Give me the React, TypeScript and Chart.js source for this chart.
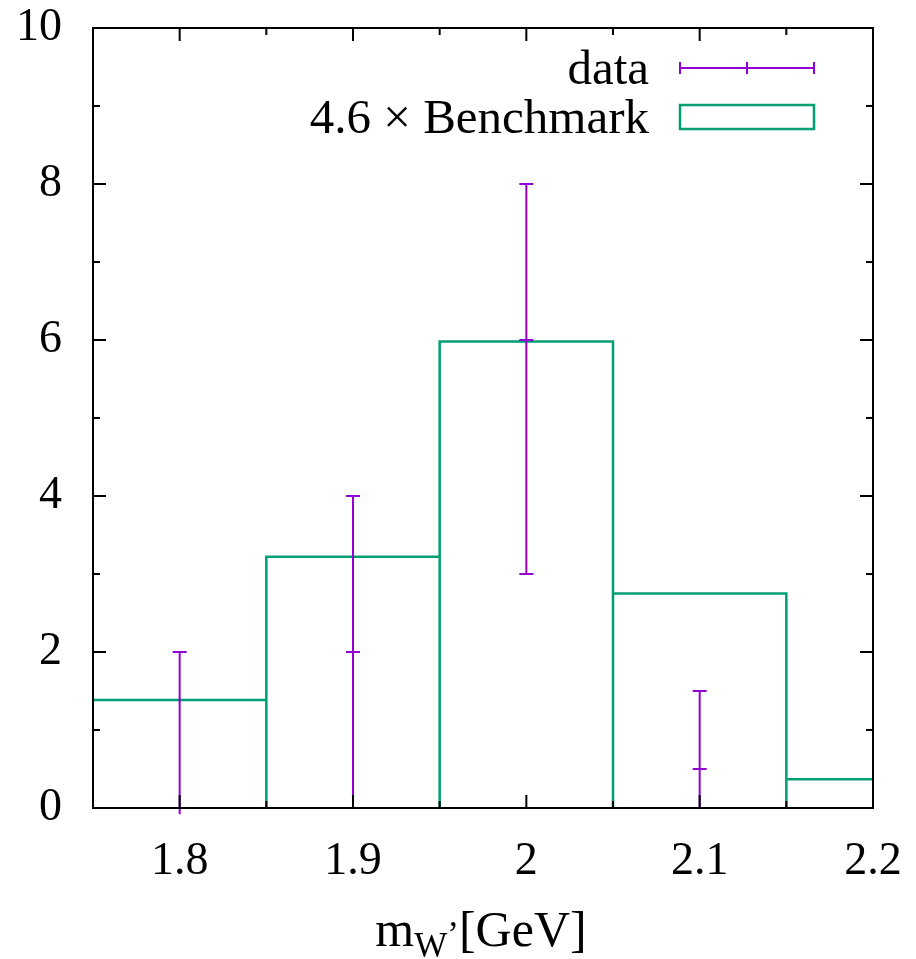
import React, { useEffect, useRef } from "react";
import { Chart, registerables } from "chart.js";

Chart.register(...registerables);

const binEdges = [1.75, 1.85, 1.95, 2.05, 2.15, 2.25];
const benchmarkValues = [1.385, 3.22, 5.98, 2.75, 0.37];
const dataX = [1.8, 1.9, 2.0, 2.1];
const dataY = [0, 2, 6, 0.5];
const dataLow = [-0.08, 0, 3, 0];
const dataHigh = [2, 4, 8, 1.5];
const xTickValues = [1.8, 1.9, 2, 2.1, 2.2];
const yTickValues = [0, 2, 4, 6, 8, 10];
const xMinorTicks = [1.75, 1.85, 1.95, 2.05, 2.15];
const yMinorTicks = [1, 3, 5, 7, 9];
const legendLabels = ["data", "4.6 \u00d7 Benchmark"];

const PURPLE = "#9400D3";
const GREEN = "#009E73";
const FONT = "'Liberation Serif', 'Times New Roman', serif";
const FS = 46;
const LFS = 49;

function outlinePoints() {
  const pts: { x: number; y: number }[] = [];
  for (let i = 0; i < benchmarkValues.length; i++) {
    const v = benchmarkValues[i];
    if (i > 0) pts.push({ x: binEdges[i], y: 0 });
    pts.push({ x: binEdges[i], y: v });
    pts.push({ x: binEdges[i + 1], y: v });
    pts.push({ x: binEdges[i + 1], y: 0 });
  }
  return pts;
}

const gnuplotPlugin = {
  id: "gnuplotDecor",
  afterDatasetsDraw(chart: any) {
    const ctx = chart.ctx;
    const xs = chart.scales.x;
    const ys = chart.scales.y;
    ctx.save();
    ctx.strokeStyle = PURPLE;
    ctx.lineWidth = 2;
    for (let i = 0; i < dataX.length; i++) {
      const px = xs.getPixelForValue(dataX[i]);
      const pl = ys.getPixelForValue(dataLow[i]);
      const ph = ys.getPixelForValue(dataHigh[i]);
      const pc = ys.getPixelForValue(dataY[i]);
      ctx.beginPath();
      ctx.moveTo(px, pl);
      ctx.lineTo(px, ph);
      ctx.moveTo(px - 7, ph);
      ctx.lineTo(px + 7, ph);
      if (dataLow[i] >= 0) {
        ctx.moveTo(px - 7, pl);
        ctx.lineTo(px + 7, pl);
      }
      ctx.moveTo(px - 7, pc);
      ctx.lineTo(px + 7, pc);
      ctx.stroke();
    }
    ctx.restore();
  },
  afterDraw(chart: any) {
    const ctx = chart.ctx;
    const a = chart.chartArea;
    const xs = chart.scales.x;
    const ys = chart.scales.y;
    ctx.save();
    ctx.strokeStyle = "#000";
    ctx.lineWidth = 2;
    ctx.beginPath();
    const major = 13;
    const minor = 7;
    xTickValues.forEach((v) => {
      const p = xs.getPixelForValue(v);
      ctx.moveTo(p, a.bottom);
      ctx.lineTo(p, a.bottom - major);
      ctx.moveTo(p, a.top);
      ctx.lineTo(p, a.top + major);
    });
    xMinorTicks.forEach((v) => {
      const p = xs.getPixelForValue(v);
      ctx.moveTo(p, a.bottom);
      ctx.lineTo(p, a.bottom - minor);
      ctx.moveTo(p, a.top);
      ctx.lineTo(p, a.top + minor);
    });
    yTickValues.forEach((v) => {
      const p = ys.getPixelForValue(v);
      ctx.moveTo(a.left, p);
      ctx.lineTo(a.left + major, p);
      ctx.moveTo(a.right, p);
      ctx.lineTo(a.right - major, p);
    });
    yMinorTicks.forEach((v) => {
      const p = ys.getPixelForValue(v);
      ctx.moveTo(a.left, p);
      ctx.lineTo(a.left + minor, p);
      ctx.moveTo(a.right, p);
      ctx.lineTo(a.right - minor, p);
    });
    ctx.stroke();
    ctx.strokeRect(a.left, a.top, a.right - a.left, a.bottom - a.top);

    // legend
    ctx.fillStyle = "#000";
    ctx.font = `${LFS}px ${FONT}`;
    ctx.textAlign = "right";
    ctx.textBaseline = "alphabetic";
    ctx.fillText(legendLabels[0], 649, 84);
    ctx.fillText(legendLabels[1], 649, 133);
    ctx.strokeStyle = PURPLE;
    ctx.lineWidth = 2;
    ctx.beginPath();
    ctx.moveTo(680, 68);
    ctx.lineTo(814, 68);
    [680, 747, 814].forEach((x) => {
      ctx.moveTo(x, 62);
      ctx.lineTo(x, 74);
    });
    ctx.stroke();
    ctx.strokeStyle = GREEN;
    ctx.lineWidth = 2.5;
    ctx.strokeRect(680, 105, 134, 24);

    // x axis title: m_{W'} [GeV]
    const parts = [
      { t: "m", size: 50, dy: 0 },
      { t: "W", size: 35, dy: 11 },
      { t: "\u2019", size: 35, dy: 0 },
      { t: "[GeV]", size: 50, dy: 0 },
    ];
    let total = 0;
    parts.forEach((p) => {
      ctx.font = `${p.size}px ${FONT}`;
      total += ctx.measureText(p.t).width;
    });
    let x = 481 - total / 2;
    const base = 946;
    ctx.fillStyle = "#000";
    ctx.textAlign = "left";
    parts.forEach((p) => {
      ctx.font = `${p.size}px ${FONT}`;
      ctx.fillText(p.t, x, base + p.dy);
      x += ctx.measureText(p.t).width;
    });
    ctx.restore();
  },
};

function zeroPad(s: any) {
  s.paddingTop = 0;
  s.paddingBottom = 0;
  s.paddingLeft = 0;
  s.paddingRight = 0;
}

export default function App() {
  const ref = useRef<HTMLCanvasElement | null>(null);
  useEffect(() => {
    if (!ref.current) return;
    const chart = new Chart(ref.current, {
      type: "line",
      data: {
        datasets: [
          {
            label: "benchmark",
            data: outlinePoints(),
            borderColor: GREEN,
            borderWidth: 2.5,
            pointRadius: 0,
            fill: false,
            tension: 0,
          } as any,
        ],
      },
      options: {
        animation: false,
        responsive: false,
        layout: { padding: { left: 0, right: 43, top: 28, bottom: 0 } },
        plugins: { legend: { display: false }, tooltip: { enabled: false } },
        scales: {
          x: {
            type: "linear",
            min: 1.75,
            max: 2.2,
            grid: { display: false, drawTicks: false },
            border: { display: false },
            afterBuildTicks: (s: any) => {
              s.ticks = xTickValues.map((v) => ({ value: v }));
            },
            afterFit: (s: any) => {
              s.height = 151;
              zeroPad(s);
            },
            ticks: {
              color: "#000",
              padding: 26,
              maxRotation: 0,
              font: { family: FONT, size: FS },
              callback: (v: any) => String(v),
            },
          },
          y: {
            type: "linear",
            min: 0,
            max: 10,
            grid: { display: false, drawTicks: false },
            border: { display: false },
            afterBuildTicks: (s: any) => {
              s.ticks = yTickValues.map((v) => ({ value: v }));
            },
            afterFit: (s: any) => {
              s.width = 93;
              zeroPad(s);
            },
            ticks: {
              color: "#000",
              padding: 31,
              font: { family: FONT, size: FS },
              callback: (v: any) => String(v),
            },
          },
        },
      },
      plugins: [gnuplotPlugin],
    });
    return () => chart.destroy();
  }, []);
  return (
    <div style={{ position: "absolute", left: 0, top: 0, width: 916, height: 959 }}>
      <canvas ref={ref} width={916} height={959} style={{ width: 916, height: 959 }} />
    </div>
  );
}
